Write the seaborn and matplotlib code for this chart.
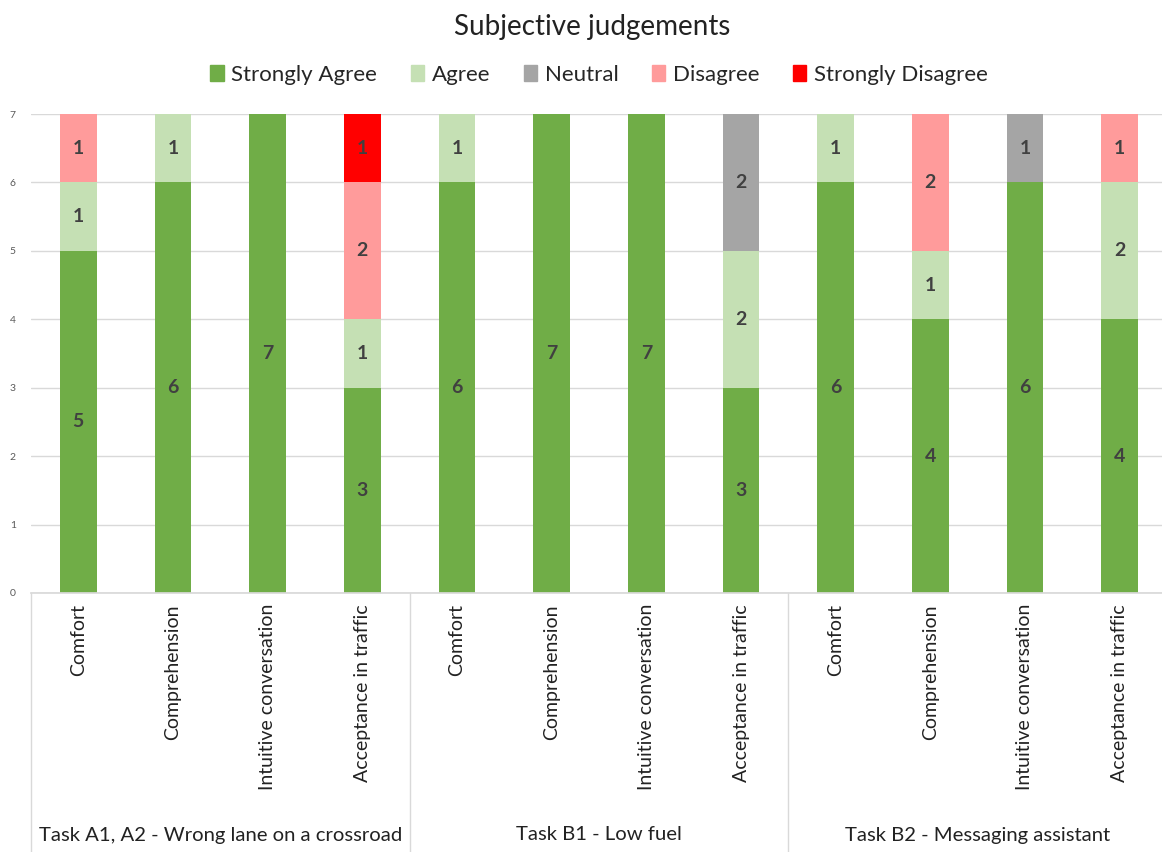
import numpy as np
import pandas as pd
import matplotlib
matplotlib.use("Agg")
import matplotlib.pyplot as plt
import matplotlib.patches as mpatches
import seaborn as sns

# ---- data ----
groups = ["Task A1, A2 - Wrong lane on a crossroad", "Task B1 - Low fuel", "Task B2 - Messaging assistant"]
criteria = ["Comfort", "Comprehension", "Intuitive conversation", "Acceptance in traffic"]
levels = ["Strongly Agree", "Agree", "Neutral", "Disagree", "Strongly Disagree"]
colors = ["#70AD47", "#C5E0B4", "#A5A5A5", "#FF9B9B", "#FF0000"]

strongly_agree    = [5, 6, 7, 3, 6, 7, 7, 3, 6, 4, 6, 4]
agree             = [1, 1, 0, 1, 1, 0, 0, 2, 1, 1, 0, 2]
neutral           = [0, 0, 0, 0, 0, 0, 0, 2, 0, 0, 1, 0]
disagree          = [1, 0, 0, 2, 0, 0, 0, 0, 0, 2, 0, 1]
strongly_disagree = [0, 0, 0, 1, 0, 0, 0, 0, 0, 0, 0, 0]

series = [strongly_agree, agree, neutral, disagree, strongly_disagree]
keys = [f"{g}|{c}" for g in groups for c in criteria]
cat_labels = [c for g in groups for c in criteria]

sns.set_theme(style="white")
plt.rcParams["font.family"] = ["Lato", "DejaVu Sans"]

vals = np.array(series, dtype=float)
cum = np.cumsum(vals, axis=0)

fig = plt.figure(figsize=(11.62, 8.52), dpi=100)
ax = fig.add_axes([31 / 1162, 259 / 852, 1136 / 1162, 479 / 852])

# draw cumulative from the top level down so each lower level overlays
for i in range(len(levels) - 1, -1, -1):
    df = pd.DataFrame({"key": keys, "value": cum[i]})
    sns.barplot(data=df, x="key", y="value", order=keys, color=colors[i],
                width=0.39, saturation=1, ax=ax, linewidth=0, errorbar=None)

# value labels
for i in range(len(levels)):
    for j in range(len(keys)):
        v = vals[i, j]
        if v > 0:
            ax.text(j, cum[i, j] - v / 2, f"{int(v)}", ha="center", va="center",
                    fontsize=14, fontweight="bold", color="#404040")

ax.set_ylim(0, 7)
ax.set_xlim(-0.5, len(keys) - 0.5)
ax.set_yticks(range(0, 8))
ax.yaxis.grid(True, color="#D9D9D9", linewidth=1)
ax.set_axisbelow(True)
ax.tick_params(axis="y", labelsize=7.5, labelcolor="#595959", length=0, pad=11)
ax.set_xticks(range(len(keys)))
ax.set_xticklabels(cat_labels, rotation=90, fontsize=14, color="#222222")
ax.tick_params(axis="x", length=0, pad=8)
ax.set_xlabel("")
ax.set_ylabel("")
for s in ["top", "right", "left"]:
    ax.spines[s].set_visible(False)
ax.spines["bottom"].set_color("#D9D9D9")

# group separators and labels
trans = matplotlib.transforms.blended_transform_factory(ax.transData, ax.transAxes)
ybot = -259 / 479
for xs in [-0.5, 3.5, 7.5, 11.5]:
    ax.plot([xs, xs], [0, ybot], color="#D9D9D9", lw=1, transform=trans, clip_on=False)
for gi, g in enumerate(groups):
    ax.text(gi * 4 + 1.5, -242 / 479, g, transform=trans, ha="center", va="center",
            fontsize=14.6, color="#222222")

fig.text(592 / 1162, 1 - 27 / 852, "Subjective judgements", ha="center", va="center",
         fontsize=20, color="#222222")
handles = [mpatches.Patch(color=c, label=l) for c, l in zip(colors, levels)]
fig.legend(handles=handles, loc="center", bbox_to_anchor=(599 / 1162, 1 - 75 / 852), ncol=5,
           frameon=False, fontsize=16, handlelength=0.6, handleheight=0.7,
           handletextpad=0.35, columnspacing=1.5)

fig.savefig("out.png", dpi=100)
